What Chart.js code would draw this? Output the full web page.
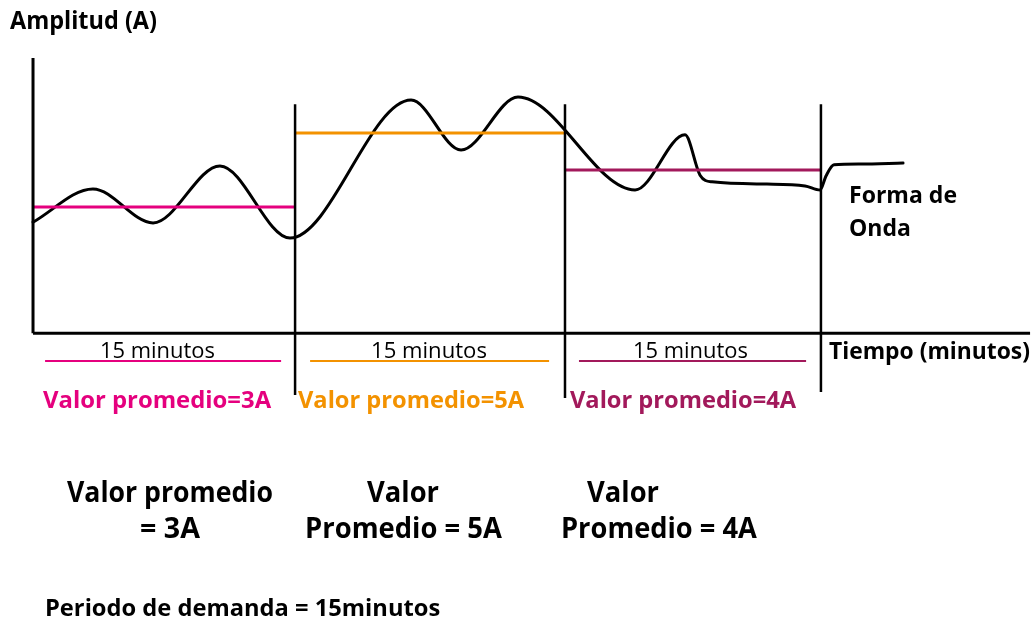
<!DOCTYPE html>
<html>
<head>
<meta charset="utf-8">
<script src="https://cdn.jsdelivr.net/npm/chart.js@4"></script>
<style>
  html, body { margin: 0; padding: 0; background: #fff; }
  #wrap { position: relative; width: 1036px; height: 622px; overflow: hidden; }
  .lbl { position: absolute; white-space: nowrap; line-height: 1; font-family: "Open Sans", sans-serif; transform-origin: 0 0; }
</style>
</head>
<body>
<div id="wrap">
  <canvas id="grafico" width="1036" height="622"></canvas>
</div>
<script>
// forma de onda (minutos, amperios): crestas, valles y el pico final
var ondaMinutos = [0, 3.43, 6.87, 10.70, 14.71, 21.64, 24.50, 27.76, 34.46, 37.32, 38.18, 38.87,
  42.01, 44.19, 45.05, 45.39, 45.85, 47.34, 49.80]
var ondaAmperios = [2.59, 3.49, 2.57, 4.11, 2.16, 5.89, 4.54, 5.97, 3.46, 4.95, 3.86, 3.68,
  3.62, 3.57, 3.46, 3.84, 4.14, 4.16, 4.19]

// limites de cada periodo de demanda (minutos)
var periodos = [0, 15, 30.45, 45.1]
var promedios = [3, 5, 4]
var etiquetasPeriodo = ['15 minutos', '15 minutos', '15 minutos']
var textosPromedio = ['Valor promedio=3A', 'Valor promedio=5A', 'Valor promedio=4A']

// ejes y divisiones
var ejeY = [7.03, -0.41]
var ejeXfin = 57.07
var divisionArriba = 5.78
var divisionAbajo = [-2.08, -2.16, -2.0]
// subrayados bajo "15 minutos"
var subrayadoY = -1.16
var subrayadoIni = [0.69, 15.86, 31.25]
var subrayadoFin = [14.2, 29.54, 44.25]

var colores = ['#e5007e', '#f39200', '#a2195b']

var datasets = []

// eje vertical y horizontal
datasets.push({ data: [{x: 0, y: ejeY[0]}, {x: 0, y: ejeY[1]}], borderColor: '#000', borderWidth: 3 })
datasets.push({ data: [{x: 0, y: ejeY[1]}, {x: ejeXfin, y: ejeY[1]}], borderColor: '#000', borderWidth: 3 })

// divisiones verticales
for (var i = 1; i < periodos.length; i++) {
  datasets.push({
    data: [{x: periodos[i], y: divisionArriba}, {x: periodos[i], y: divisionAbajo[i - 1]}],
    borderColor: '#000', borderWidth: 2.5
  })
}

// valores promedio
for (var i = 0; i < promedios.length; i++) {
  datasets.push({
    data: [{x: periodos[i], y: promedios[i]}, {x: periodos[i + 1], y: promedios[i]}],
    borderColor: colores[i], borderWidth: 3
  })
  datasets.push({
    data: [{x: subrayadoIni[i], y: subrayadoY}, {x: subrayadoFin[i], y: subrayadoY}],
    borderColor: colores[i], borderWidth: 2
  })
}

// forma de onda
var puntosOnda = ondaMinutos.map(function (m, k) { return {x: m, y: ondaAmperios[k]} })
datasets.push({
  data: puntosOnda, borderColor: '#000', borderWidth: 3,
  cubicInterpolationMode: 'monotone', borderCapStyle: 'round', borderJoinStyle: 'round'
})

datasets.forEach(function (d) {
  d.pointRadius = 0
  d.fill = false
  d.clip = false
})

var grafico = new Chart(document.getElementById('grafico'), {
  type: 'line',
  data: { datasets: datasets },
  options: {
    responsive: false,
    animation: false,
    devicePixelRatio: 1,
    layout: { padding: 0 },
    plugins: { legend: { display: false }, tooltip: { enabled: false } },
    scales: {
      x: { type: 'linear', display: false, min: -1.89, max: 57.41 },
      y: { type: 'linear', display: false, min: -8.216, max: 8.595 }
    }
  }
})

// textos: texto, izquierda, linea base, tamaño, peso, color, ancho
var textos = [
  ['Amplitud (A)', 10, 29, 25, 700, '#000', 147],
  ['Forma de', 849, 203, 24, 700, '#000', 108],
  ['Onda', 849, 236, 24, 700, '#000', 62],
  [etiquetasPeriodo[0], 100, 359, 21, 500, '#000', 115],
  [etiquetasPeriodo[1], 371, 359, 21, 500, '#000', 116],
  [etiquetasPeriodo[2], 633, 359, 21, 500, '#000', 115],
  ['Tiempo (minutos)', 829, 359, 23, 700, '#000', 201],
  [textosPromedio[0], 43, 408, 24, 700, colores[0], 228],
  [textosPromedio[1], 298, 408, 24, 700, colores[1], 226],
  [textosPromedio[2], 570, 408, 24, 700, colores[2], 226],
  ['Valor promedio', 67, 502, 28, 700, '#000', 206],
  ['= 3A', 140, 538, 28, 700, '#000', 60],
  ['Valor', 367, 502, 28, 700, '#000', 72],
  ['Promedio = 5A', 305, 538, 28, 700, '#000', 197],
  ['Valor', 587, 502, 28, 700, '#000', 72],
  ['Promedio = 4A', 561, 538, 28, 700, '#000', 196],
  ['Periodo de demanda = 15minutos', 45, 616, 24, 700, '#000', 395]
]

var wrap = document.getElementById('wrap')
textos.forEach(function (t) {
  var d = document.createElement('div')
  d.className = 'lbl'
  d.textContent = t[0]
  d.style.left = t[1] + 'px'
  d.style.top = (t[2] - 0.888 * t[3]) + 'px'
  d.style.fontSize = t[3] + 'px'
  d.style.fontWeight = t[4]
  d.style.color = t[5]
  wrap.appendChild(d)
  var w = d.getBoundingClientRect().width
  if (w > 0) d.style.transform = 'scaleX(' + (t[6] / w).toFixed(3) + ')'
})
</script>
</body>
</html>
